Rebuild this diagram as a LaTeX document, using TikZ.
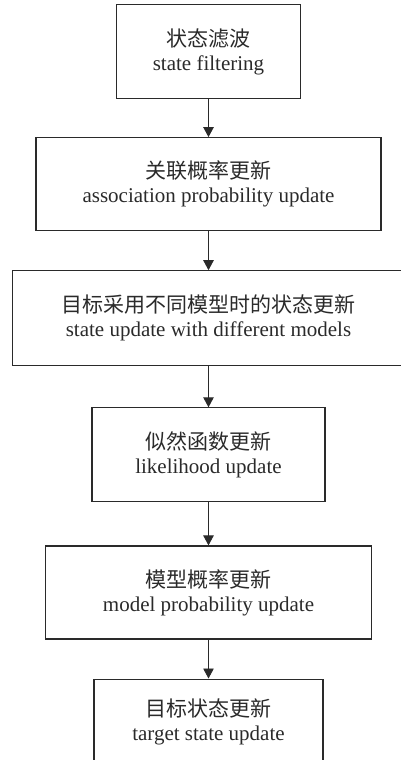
\documentclass[tikz,border=0pt]{standalone}
\usepackage{fontspec}
\setmainfont{Liberation Serif}
\newfontfamily\cjk{Noto Sans CJK SC}
\usepackage{xcolor}
\usepackage{tikz}
\usetikzlibrary{arrows.meta,positioning}
\definecolor{Ink}{HTML}{2A2A2A}

\begin{document}
\begin{tikzpicture}[
    stage/.style={rectangle,draw=Ink,line width=1.1pt,text=Ink,minimum height=94pt,align=center,font=\fontsize{21}{24}\selectfont},
    arrow/.style={-{Triangle[length=10pt,width=10.5pt]},line width=0.9pt,draw=Ink}
]
\useasboundingbox (0,0) rectangle (400pt,-760pt);
\node[stage,anchor=north,minimum width=184pt] (filt) at (208.5pt,-4pt) {{\cjk 状态滤波}\\state filtering};
\node[stage,below=38pt of filt,minimum width=345pt,minimum height=93pt] (assoc) {{\cjk 关联概率更新}\\association probability update};
\node[stage,below=39pt of assoc,minimum width=392pt,minimum height=95pt] (upd) {{\cjk 目标采用不同模型时的状态更新}\\state update with different models};
\node[stage,below=41pt of upd,minimum width=233pt] (like) {{\cjk 似然函数更新}\\likelihood update};
\node[stage,below=43pt of like,minimum width=326pt,minimum height=93pt] (model) {{\cjk 模型概率更新}\\model probability update};
\node[stage,below=39pt of model,minimum width=229pt,minimum height=86pt] (target) {{\cjk 目标状态更新}\\target state update};
\draw[arrow] (filt) -- (assoc);
\draw[arrow] (assoc) -- (upd);
\draw[arrow] (upd) -- (like);
\draw[arrow] (like) -- (model);
\draw[arrow] (model) -- (target);
\end{tikzpicture}
\end{document}
